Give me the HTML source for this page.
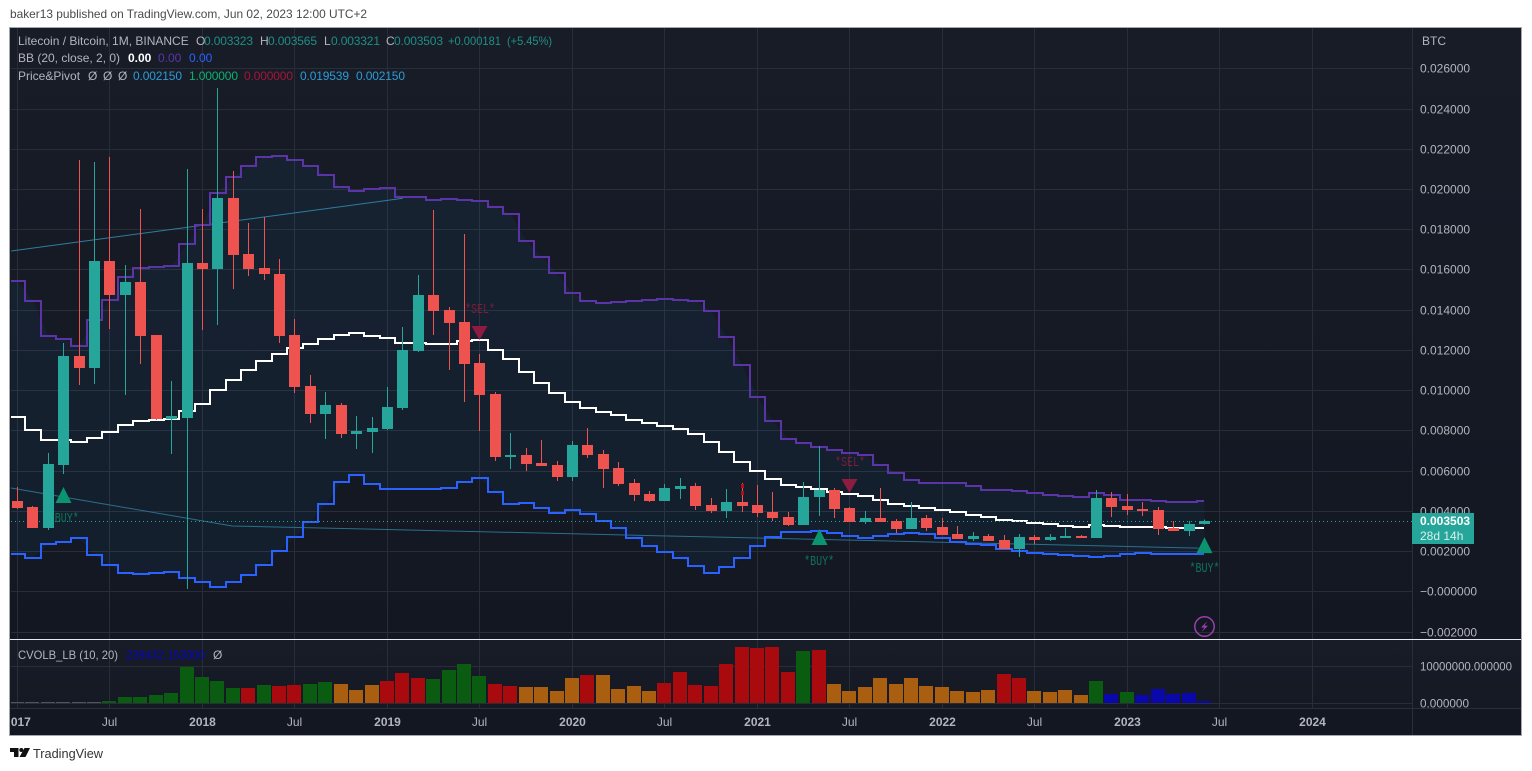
<!DOCTYPE html>
<html lang="en">
<head>
<meta charset="utf-8">
<title>Litecoin / Bitcoin monthly chart</title>
<style>
html,body{margin:0;padding:0;background:#fff;width:1532px;height:771px;overflow:hidden}
svg{display:block}
text{font-family:"Liberation Sans",sans-serif;font-size:12px;fill:#b2b5be}
.val{fill:#1f8f85}
</style>
</head>
<body>
<svg id="chart" xmlns="http://www.w3.org/2000/svg" width="1532" height="771" viewBox="0 0 1532 771">
  <defs>
    <linearGradient id="bgMain" x1="0" y1="0" x2="0" y2="1"><stop offset="0" stop-color="#181c27"/><stop offset="1" stop-color="#131722"/></linearGradient>
    <linearGradient id="bgVol" x1="0" y1="0" x2="0" y2="1"><stop offset="0" stop-color="#181c27"/><stop offset="1" stop-color="#151924"/></linearGradient>
    <clipPath id="clipMain"><rect x="11" y="28" width="1401" height="611"/></clipPath>
    <clipPath id="clipVol"><rect x="11" y="640" width="1401" height="68"/></clipPath>
    <clipPath id="clipTime"><rect x="11" y="709" width="1401" height="26"/></clipPath>
  </defs>

  <text x="10" y="18" textLength="357" lengthAdjust="spacingAndGlyphs" style="fill:#4a4a4a">baker13 published on TradingView.com, Jun 02, 2023 12:00 UTC+2</text>

  <rect x="10" y="28" width="1511" height="611" fill="url(#bgMain)"/>
  <rect x="10" y="640" width="1511" height="68" fill="url(#bgVol)"/>
  <rect x="10" y="708" width="1511" height="27" fill="#131722"/>

  <g id="gridLayer"></g>
  <g id="mainLayer" clip-path="url(#clipMain)"></g>
  <g id="volLayer" clip-path="url(#clipVol)"></g>

  <line x1="1412.5" y1="28" x2="1412.5" y2="735" stroke="#2a2e39"/>
  <line x1="10" y1="708.5" x2="1521" y2="708.5" stroke="#2a2e39"/>
  <rect x="10" y="639" width="1512" height="1" fill="#e6e8ee"/>
  <rect x="9.5" y="27.5" width="1512" height="708" fill="none" stroke="#a3a6af"/>

  <g id="priceAxis"></g>
  <g id="volAxis"></g>
  <g id="timeAxis" clip-path="url(#clipTime)"></g>

  <text x="1422" y="45">BTC</text>

  <g>
    <text x="18" y="45">Litecoin / Bitcoin, 1M, BINANCE</text>
    <text x="196" y="45">O</text><text class="val" x="204" y="45" textLength="49">0.003323</text>
    <text x="260" y="45">H</text><text class="val" x="268" y="45" textLength="49">0.003565</text>
    <text x="324" y="45">L</text><text class="val" x="331" y="45" textLength="49">0.003321</text>
    <text x="386" y="45">C</text><text class="val" x="394" y="45" textLength="49">0.003503</text>
    <text class="val" x="448" y="45" textLength="53" lengthAdjust="spacingAndGlyphs">+0.000181</text>
    <text class="val" x="507" y="45" textLength="45" lengthAdjust="spacingAndGlyphs">(+5.45%)</text>

    <text x="18" y="62">BB (20, close, 2, 0)</text>
    <text x="128" y="62" style="fill:#fff;font-weight:bold">0.00</text>
    <text x="158" y="62" style="fill:#5b35a8">0.00</text>
    <text x="189" y="62" style="fill:#2962ff">0.00</text>

    <text x="18" y="80">Price&amp;Pivot</text>
    <text x="88" y="80">Ø</text>
    <text x="103" y="80">Ø</text>
    <text x="118" y="80">Ø</text>
    <text x="133" y="80" textLength="49" style="fill:#2d9bd6">0.002150</text>
    <text x="189" y="80" textLength="49" style="fill:#09b36f">1.000000</text>
    <text x="244" y="80" textLength="49" style="fill:#a5163a">0.000000</text>
    <text x="300" y="80" textLength="49" style="fill:#2d9bd6">0.019539</text>
    <text x="356" y="80" textLength="49" style="fill:#2d9bd6">0.002150</text>
  </g>

  <g>
    <text x="18" y="659" textLength="100" lengthAdjust="spacingAndGlyphs">CVOLB_LB (10, 20)</text>
    <text x="126" y="659" textLength="79" lengthAdjust="spacingAndGlyphs" style="fill:#0505c4">239432.153000</text>
    <text x="213" y="659">Ø</text>
  </g>

  <g>
    <rect x="1412" y="513" width="62" height="31" fill="#26a69a"/>
    <text x="1420" y="525" style="fill:#fff;font-weight:bold">0.003503</text>
    <text x="1420" y="540" style="fill:#d6f0ed">28d 14h</text>
  </g>

  <g>
    <circle cx="1204.5" cy="626.5" r="9.7" fill="none" stroke="#9c3fb0" stroke-width="1.5"/>
    <polygon points="1207.5,621 1201,627.5 1204.5,627.5 1201.5,632 1208,625.8 1204.5,625.8" fill="#9c3fb0"/>
  </g>

  <g>
    <path d="M10 748h8.5v9h-4.5v-5h-4z" fill="#111"/>
    <circle cx="21.3" cy="750" r="2" fill="#111"/>
    <polygon points="24.5,748 30,748 25.5,757 19.5,757" fill="#111"/>
    <text x="33" y="758" textLength="70" lengthAdjust="spacingAndGlyphs" style="fill:#333;font-size:13px">TradingView</text>
  </g>
</svg>

<script>
// ---- chart data ----
const monthCount = 78;
const priceTicks = [0.026,0.024,0.022,0.020,0.018,0.016,0.014,0.012,0.010,0.008,0.006,0.004,0.002,0,-0.002];
const priceTickLabels = ["0.026000","0.024000","0.022000","0.020000","0.018000","0.016000","0.014000","0.012000","0.010000","0.008000","0.006000","0.004000","0.002000","\u22120.000000","\u22120.002000"];
const volumeTicks = [10000000,0];
const volumeTickLabels = ["10000000.000000","0.000000"];
const timeTickMonths = [0,6,12,18,24,30,36,42,48,54,60,66,72,78,84];
const timeTickLabels = ["2017","Jul","2018","Jul","2019","Jul","2020","Jul","2021","Jul","2022","Jul","2023","Jul","2024"];
const lastPrice = 0.003503;

const open = [0.004489,0.004191,0.003147,0.006278,0.011697,0.011100,0.016419,0.014729,0.015375,0.012741,0.008565,0.008615,0.016320,0.016021,0.019551,0.016767,0.016071,0.015773,0.012741,0.010205,0.008814,0.009261,0.007819,0.007919,0.008068,0.009112,0.011945,0.014729,0.013984,0.013387,0.011349,0.009808,0.006676,0.006775,0.006378,0.006278,0.005682,0.007273,0.006825,0.006129,0.005384,0.004837,0.004489,0.005085,0.005234,0.004290,0.003992,0.004439,0.004290,0.003942,0.003693,0.003296,0.004688,0.005036,0.004141,0.003445,0.003644,0.003495,0.003097,0.003644,0.003196,0.002848,0.002600,0.002749,0.002550,0.002103,0.002699,0.002550,0.002650,0.002749,0.002650,0.004638,0.004240,0.004091,0.004041,0.003147,0.002998,0.003323];
const high = [0.005185,0.004240,0.006875,0.012343,0.021440,0.021340,0.021589,0.016220,0.019004,0.012741,0.010454,0.020993,0.019004,0.025019,0.020893,0.018308,0.018607,0.016519,0.013536,0.010752,0.009907,0.009360,0.008714,0.008665,0.010156,0.013138,0.015723,0.018954,0.014133,0.017761,0.011796,0.009907,0.007869,0.007123,0.007521,0.006477,0.007471,0.008118,0.007024,0.006428,0.005582,0.004986,0.005334,0.005632,0.005384,0.004638,0.005085,0.005384,0.005284,0.004936,0.003942,0.005433,0.007223,0.005135,0.004191,0.003992,0.005135,0.003594,0.004439,0.003793,0.003644,0.003246,0.002948,0.002848,0.002799,0.002848,0.002799,0.002848,0.003147,0.002799,0.005036,0.004936,0.004837,0.004439,0.004191,0.003495,0.003495,0.003565];
const low = [0.004091,0.003147,0.003047,0.005831,0.010255,0.010305,0.013039,0.009758,0.011299,0.008515,0.006825,0.000114,0.012989,0.013238,0.015027,0.015674,0.015475,0.012343,0.009858,0.008366,0.007571,0.007621,0.007074,0.006875,0.008018,0.009012,0.011896,0.012741,0.011001,0.009410,0.007969,0.006477,0.006080,0.005980,0.006229,0.005483,0.005483,0.006626,0.005135,0.005234,0.004489,0.004439,0.004489,0.004588,0.004041,0.003892,0.003644,0.003942,0.003693,0.003495,0.003246,0.003296,0.003743,0.003644,0.003445,0.003345,0.003445,0.002898,0.003097,0.002998,0.002799,0.002600,0.002500,0.002500,0.002103,0.001705,0.002351,0.002500,0.002650,0.002650,0.002650,0.003693,0.003793,0.003743,0.002799,0.002998,0.002749,0.003321];
const close = [0.004141,0.003147,0.006328,0.011697,0.011100,0.016419,0.014729,0.015375,0.012691,0.008565,0.008714,0.016320,0.016021,0.019551,0.016718,0.016021,0.015773,0.012691,0.010156,0.008814,0.009261,0.007819,0.007969,0.008118,0.009162,0.011995,0.014729,0.013934,0.013337,0.011299,0.009758,0.006676,0.006775,0.006328,0.006229,0.005682,0.007273,0.006775,0.006080,0.005334,0.004787,0.004489,0.005135,0.005234,0.004240,0.003992,0.004439,0.004240,0.003892,0.003644,0.003296,0.004688,0.005036,0.004091,0.003445,0.003644,0.003445,0.003097,0.003644,0.003147,0.002799,0.002600,0.002749,0.002500,0.002103,0.002699,0.002550,0.002699,0.002749,0.002650,0.004638,0.004191,0.004041,0.003992,0.003097,0.002998,0.003345,0.003503];

const bbUpper = [0.015425,0.014431,0.012691,0.012542,0.012194,0.013486,0.014481,0.015624,0.016071,0.016121,0.016171,0.017264,0.018209,0.019800,0.020595,0.021142,0.021589,0.021639,0.021440,0.021142,0.020694,0.020098,0.019899,0.019998,0.020048,0.019601,0.019601,0.019452,0.019501,0.019452,0.019427,0.019104,0.018756,0.017413,0.016618,0.015823,0.014829,0.014431,0.014331,0.014381,0.014431,0.014481,0.014530,0.014481,0.014431,0.013934,0.012641,0.011249,0.009659,0.008466,0.007571,0.007372,0.007173,0.007024,0.006875,0.006775,0.006278,0.005881,0.005533,0.005384,0.005384,0.005384,0.005234,0.005036,0.005036,0.004986,0.004887,0.004787,0.004737,0.004688,0.004887,0.004787,0.004539,0.004539,0.004489,0.004439,0.004439,0.004489];
const bbBasis = [0.008665,0.008018,0.007521,0.007521,0.007422,0.007621,0.007919,0.008267,0.008466,0.008515,0.008565,0.008963,0.009311,0.010007,0.010504,0.011001,0.011448,0.011796,0.012095,0.012293,0.012542,0.012741,0.012840,0.012691,0.012592,0.012343,0.012343,0.012293,0.012293,0.012442,0.012492,0.011995,0.011548,0.010901,0.010355,0.009858,0.009410,0.009112,0.008913,0.008764,0.008515,0.008366,0.008217,0.008068,0.007819,0.007422,0.006925,0.006428,0.005980,0.005582,0.005284,0.005185,0.005085,0.004936,0.004837,0.004737,0.004539,0.004340,0.004240,0.004141,0.004041,0.003942,0.003793,0.003693,0.003544,0.003495,0.003395,0.003345,0.003246,0.003196,0.003296,0.003246,0.003196,0.003196,0.003196,0.003147,0.003147,0.003147];
const bbLower = [0.001854,0.001655,0.002351,0.002451,0.002650,0.001804,0.001307,0.000910,0.000860,0.000910,0.000959,0.000661,0.000462,0.000214,0.000462,0.000810,0.001307,0.002003,0.002699,0.003445,0.004340,0.005433,0.005781,0.005334,0.005085,0.005085,0.005085,0.005085,0.005135,0.005433,0.005632,0.004936,0.004340,0.004389,0.004141,0.003892,0.004041,0.003843,0.003495,0.003147,0.002650,0.002252,0.001954,0.001655,0.001258,0.000910,0.001208,0.001655,0.002252,0.002699,0.002948,0.002948,0.002998,0.002898,0.002749,0.002650,0.002749,0.002848,0.002898,0.002848,0.002650,0.002451,0.002351,0.002302,0.002103,0.002003,0.001904,0.001854,0.001804,0.001755,0.001705,0.001755,0.001854,0.001904,0.001854,0.001854,0.001854,0.001854];

const pivotUpperMonths = [-0.41,25];
const pivotUpperPrices = [0.016920,0.019539];
const pivotLowerMonths = [-0.41,13.93,76.6];
const pivotLowerPrices = [0.005135,0.003246,0.002150];

const buyMonths = [3,52,77];
const buyPrices = [0.004390,0.002300,0.001900];
const sellMonths = [30,54];
const sellPrices = [0.013190,0.005580];
const dotMonths = [47,47];
const dotPrices = [0.005234,0.004887];

const volumeValues = [270000,270000,270000,270000,270000,270000,450000,1530000,1530000,2070000,2610000,9640000,6940000,5860000,3960000,3960000,4770000,4500000,4770000,5050000,5590000,5050000,3420000,4770000,5860000,8020000,6670000,6400000,8830000,10450000,7210000,5050000,4500000,4230000,4230000,3150000,6670000,7480000,7480000,3690000,4500000,3150000,5320000,8290000,4770000,4500000,10450000,15050000,14770000,15050000,8290000,13960000,14230000,5050000,3150000,4230000,6670000,5050000,6670000,4500000,4230000,3150000,2880000,3420000,7750000,6670000,3150000,2880000,3420000,2070000,5860000,2340000,2880000,2070000,3690000,2340000,2610000,450000];
const volumeStates = ["n","n","n","n","n","n","g","g","g","g","g","g","g","g","g","r","g","r","r","g","g","o","o","o","r","r","r","g","g","g","g","r","r","o","o","o","o","r","o","o","o","o","r","r","r","r","r","r","r","r","r","g","r","o","o","o","o","o","o","o","o","o","o","o","r","r","o","o","o","o","g","b","g","b","b","b","b","b"];

// ---- axis functions ----
const xCenter = i => 17.5 + 15.416 * i;
const xPixel = i => Math.round(16.95 + 15.416 * i);
const yPrice = p => 591.3 - 20115 * p;
const yVolume = v => 702.5 - v * 37 / 10000000;

const SVGNS = "http://www.w3.org/2000/svg";
const gridLayer = document.getElementById("gridLayer");
const mainLayer = document.getElementById("mainLayer");
const volLayer = document.getElementById("volLayer");
const priceAxis = document.getElementById("priceAxis");
const volAxis = document.getElementById("volAxis");
const timeAxis = document.getElementById("timeAxis");

function shape(tag, attrs, parent) {
  const el = document.createElementNS(SVGNS, tag);
  for (const k in attrs) el.setAttribute(k, attrs[k]);
  parent.appendChild(el);
  return el;
}

// ---- grid + ticks ----
priceTicks.forEach((p, k) => {
  const y = Math.round(yPrice(p)) + 0.5;
  const line = shape("line", {x1: 11, x2: 1412, y1: y, y2: y, stroke: "#292d39"}, gridLayer);
  
  
  const label = shape("text", {x: 1420, y: y + 4}, priceAxis);
  label.textContent = priceTickLabels[k];
  
  
});
volumeTicks.forEach((v, k) => {
  const y = Math.round(yVolume(v)) + 0.5;
  const line = shape("line", {x1: 11, x2: 1412, y1: y, y2: y, stroke: "#292d39"}, gridLayer);
  
  
  const label = shape("text", {x: 1420, y: y + 4, textLength: k === 0 ? 92 : 49, lengthAdjust: "spacingAndGlyphs"}, volAxis);
  label.textContent = volumeTickLabels[k];
  
  
});
timeTickMonths.forEach((m, k) => {
  const x = xPixel(m) + 0.5;
  const line = shape("line", {x1: x, x2: x, y1: 28, y2: 708, stroke: "#292d39"}, gridLayer);
  
  
  const isYear = timeTickLabels[k] !== "Jul";
  const label = shape("text", {x: x, y: 726, "text-anchor": "middle", style: isYear ? "font-weight:bold" : ""}, timeAxis);
  label.textContent = timeTickLabels[k];
  
  
});

// ---- Bollinger fill ----
let fillPts = "11," + yPrice(bbUpper[0]).toFixed(1);
for (let i = 0; i < monthCount; i++) fillPts += " " + xCenter(i).toFixed(1) + "," + yPrice(bbUpper[i]).toFixed(1);
for (let i = monthCount - 1; i >= 0; i--) fillPts += " " + xCenter(i).toFixed(1) + "," + yPrice(bbLower[i]).toFixed(1);
fillPts += " 11," + yPrice(bbLower[0]).toFixed(1);
const bandFill = shape("polygon", {points: fillPts, fill: "rgba(33,150,243,0.06)"}, mainLayer);



// ---- pivot lines ----
function linePath(months, prices) {
  return months.map((m, i) => (i ? "L" : "M") + xCenter(m).toFixed(1) + " " + yPrice(prices[i]).toFixed(1)).join(" ");
}
const pivotUp = shape("path", {d: linePath(pivotUpperMonths, pivotUpperPrices), fill: "none", stroke: "#2f7d9e", "stroke-width": 1}, mainLayer);


const pivotLow = shape("path", {d: linePath(pivotLowerMonths, pivotLowerPrices), fill: "none", stroke: "#2a6f8c", "stroke-width": 1}, mainLayer);



// ---- stepped band lines ----
function stepPath(values) {
  let d = "M11 " + Math.round(yPrice(values[0]));
  for (let i = 0; i < values.length; i++) {
    const y = Math.round(yPrice(values[i]));
    d += " V" + y + " H" + (i === values.length - 1 ? xPixel(i) : Math.round(xCenter(i) + 7.7));
  }
  return d;
}
const upperLine = shape("path", {d: stepPath(bbUpper), fill: "none", stroke: "#5b35a8", "stroke-width": 2}, mainLayer);


const lowerLine = shape("path", {d: stepPath(bbLower), fill: "none", stroke: "#2962ff", "stroke-width": 2}, mainLayer);


const basisLine = shape("path", {d: stepPath(bbBasis), fill: "none", stroke: "#ffffff", "stroke-width": 2}, mainLayer);



// ---- last price dotted line ----
const lastY = Math.round(yPrice(lastPrice)) + 0.5;
const lastLine = shape("line", {x1: 11, x2: 1412, y1: lastY, y2: lastY, stroke: "#26a69a", "stroke-width": 1, "stroke-dasharray": "1 3"}, mainLayer);



// ---- marker labels below candles ----
function markerLabel(txt, x, y, color) {
  const t = shape("text", {x: x, y: y, "text-anchor": "middle", textLength: 30, lengthAdjust: "spacingAndGlyphs", style: 'font-family:"Liberation Mono",monospace;font-size:14px;fill:' + color}, mainLayer);
  t.textContent = txt;
  return t;
}
buyMonths.forEach((m, k) => {
  const offset = k === 0 ? 19 : (k === 1 ? 20 : 19);
  const t = markerLabel("*BUY*", xCenter(m), yPrice(buyPrices[k]) + offset, "#0f7558");
  
  
});
sellMonths.forEach((m, k) => {
  const t = markerLabel("*SEL*", xCenter(m), yPrice(sellPrices[k]) - 13, "#7e1c3c");
  
  
});

// ---- candles ----
for (let i = 0; i < monthCount; i++) {
  const up = close[i] >= open[i];
  const color = up ? "#26a69a" : "#ef5350";
  const px = xPixel(i);
  const wickTop = yPrice(high[i]);
  const wickBot = yPrice(low[i]);
  const wick = shape("rect", {x: px, y: wickTop.toFixed(1), width: 1, height: (wickBot - wickTop).toFixed(1), fill: color}, mainLayer);
  
  
  const bodyTop = Math.round(yPrice(Math.max(open[i], close[i])));
  const bodyBot = Math.round(yPrice(Math.min(open[i], close[i])));
  const body = shape("rect", {x: px - 5, y: bodyTop, width: 11, height: Math.max(1, bodyBot - bodyTop), fill: color}, mainLayer);
  
  
}
dotMonths.forEach((m, k) => {
  const d = shape("rect", {x: xPixel(m) - 1, y: yPrice(dotPrices[k]).toFixed(1) - 2, width: 3, height: 4, fill: "#b01010"}, mainLayer);
  
  
});

// ---- buy / sell triangles ----
buyMonths.forEach((m, k) => {
  const x = xPixel(m) + 0.5;
  const y = yPrice(buyPrices[k]);
  const tri = shape("polygon", {points: (x - 8) + "," + y + " " + (x + 8) + "," + y + " " + x + "," + (y - 16), fill: "#0a9570"}, mainLayer);
  
  
});
sellMonths.forEach((m, k) => {
  const x = xPixel(m) + 0.5;
  const y = yPrice(sellPrices[k]);
  const tri = shape("polygon", {points: (x - 8) + "," + y + " " + (x + 8) + "," + y + " " + x + "," + (y + 14), fill: "#8e1b40"}, mainLayer);
  
  
});

// ---- volume bars ----
const stateColors = {n: "#50545e", g: "#095c10", r: "#a90a0d", o: "#aa5e10", b: "#0a08ab"};
volumeValues.forEach((v, i) => {
  const top = Math.round(yVolume(v));
  const bar = shape("rect", {x: xPixel(i) - 7, y: top, width: 14, height: Math.max(1, 703 - top), fill: stateColors[volumeStates[i]]}, volLayer);
  
  
});
</script>
</body>
</html>
